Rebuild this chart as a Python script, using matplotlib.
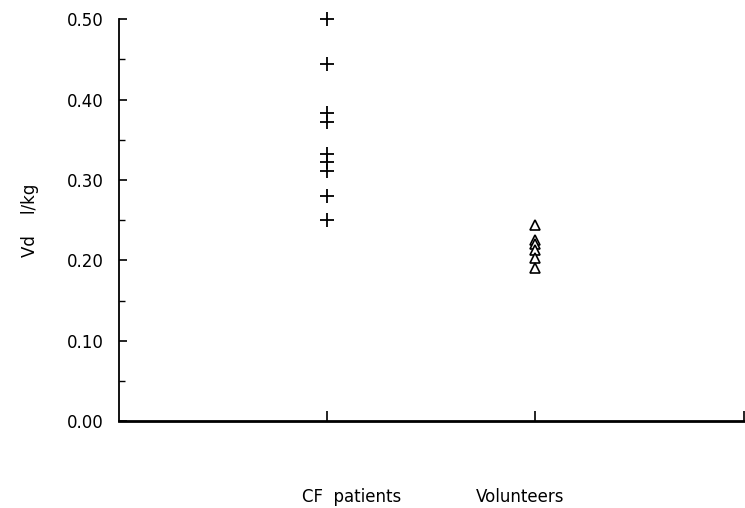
import matplotlib
matplotlib.use('Agg')
import matplotlib.pyplot as plt
import matplotlib.transforms as mtransforms
import numpy as np

groups = ['CF  patients', 'Volunteers']
cf_vd = [0.50, 0.444, 0.383, 0.372, 0.333, 0.322, 0.311, 0.280, 0.250]
vol_vd = [0.244, 0.225, 0.221, 0.213, 0.203, 0.190]
yticks = [0.0, 0.1, 0.2, 0.3, 0.4, 0.5]

plt.rcParams['font.family'] = ['DejaVu Sans']

fig = plt.figure(figsize=(7.45, 5.08), dpi=100)
ax = fig.add_axes([0.160, 0.171, 0.838, 0.791])

ax.plot([1] * len(cf_vd), cf_vd, linestyle='none', marker='+', ms=10, mew=1.3,
        color='black', clip_on=False)
ax.plot([2] * len(vol_vd), vol_vd, linestyle='none', marker='^', ms=7.5, mew=1.2,
        mfc='white', mec='black', clip_on=False)

ax.set_xlim(0, 3)
ax.set_ylim(0, 0.5)
ax.set_yticks(yticks)
ax.set_yticklabels(['%.2f' % v for v in yticks], fontsize=12)
ax.set_yticks(np.arange(0.05, 0.5, 0.1), minor=True)
ax.tick_params(axis='y', which='major', direction='in', length=6, width=1.2, pad=11)
ax.tick_params(axis='y', which='minor', direction='in', length=4, width=1)

ax.set_xticks([1, 2, 3])
ax.set_xticklabels([])
ax.tick_params(axis='x', direction='in', length=7, width=1.2)

for s in ['top', 'right']:
    ax.spines[s].set_visible(False)
ax.spines['left'].set_linewidth(1.3)
ax.spines['bottom'].set_linewidth(2)

# group labels sit well below the axis, slightly off the ticks
offsets = [24, -15]
for i, name in enumerate(groups):
    tr = mtransforms.blended_transform_factory(ax.transData, ax.transAxes) + \
        mtransforms.ScaledTranslation(offsets[i] / 100, 0, fig.dpi_scale_trans)
    ax.text(i + 1, -0.19, name, transform=tr, ha='center', va='center', fontsize=12)

ax.set_ylabel('Vd    l/kg', fontsize=12, labelpad=20)

fig.savefig('out.png', dpi=100)
